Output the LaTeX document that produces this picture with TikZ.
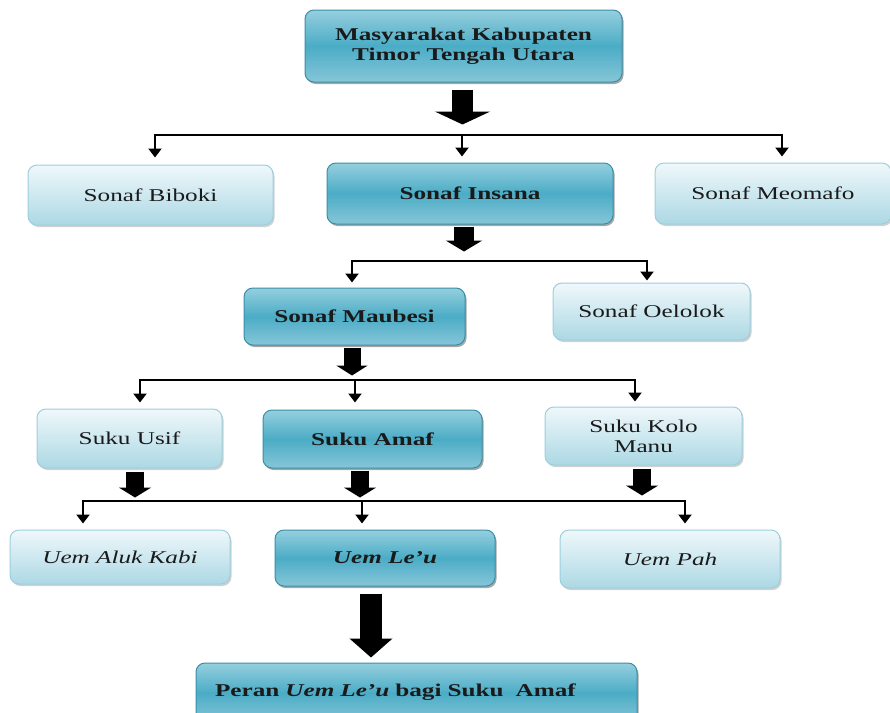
\documentclass[tikz,border=0pt]{standalone}
\usepackage{fontspec}
\setmainfont{Liberation Serif}[FakeStretch=1.4]
\usetikzlibrary{arrows.meta,shadows}
\definecolor{dktop}{HTML}{95CFDE}
\definecolor{dkmid}{HTML}{4BACC6}
\definecolor{dkbot}{HTML}{86C6D8}
\definecolor{dkedge}{HTML}{3A8FA8}
\definecolor{lttop}{HTML}{EFF8FB}
\definecolor{ltbot}{HTML}{ACD8E4}
\definecolor{ltedge}{HTML}{9CCFDD}
\definecolor{txt}{HTML}{1A1A1A}
\newcommand\boxfont{\fontsize{18}{20}\selectfont}
\tikzset{
  darkbox/.style={rounded corners=9pt, draw=dkedge, line width=1pt,
    top color=dktop, bottom color=dkbot, middle color=dkmid,
    drop shadow={shadow xshift=1.5pt, shadow yshift=-2pt, fill=black, opacity=.35},
    font=\boxfont\bfseries, text=txt, inner sep=0pt, align=center},
  lightbox/.style={rounded corners=9pt, draw=ltedge, line width=1pt,
    top color=lttop, bottom color=ltbot,
    drop shadow={shadow xshift=1.5pt, shadow yshift=-2pt, fill=black, opacity=.18},
    font=\boxfont, text=txt, inner sep=0pt, align=center},
  conn/.style={line width=2.5pt, -{Triangle[width=13pt,length=9pt]}},
  bigarr/.style n args={3}{line width=#1, -{Triangle[width=#2,length=#3]}}
}
\begin{document}
\begin{tikzpicture}[x=1pt,y=-1pt]
\useasboundingbox (0,0) rectangle (890,712);

% nodes
\node[darkbox, minimum width=317pt, minimum height=72pt] (top) at (463.5,46)
  {Masyarakat Kabupaten\\Timor Tengah Utara};
\node[lightbox, minimum width=245pt, minimum height=60pt] (biboki) at (150.5,195) {Sonaf Biboki};
\node[darkbox, minimum width=286pt, minimum height=61pt] (insana) at (470,193.5) {Sonaf Insana};
\node[lightbox, minimum width=236pt, minimum height=61pt] (meomafo) at (773,193.5) {Sonaf Meomafo};
\node[darkbox, minimum width=221pt, minimum height=57pt] (maubesi) at (354.5,316.5) {Sonaf Maubesi};
\node[lightbox, minimum width=197pt, minimum height=57pt] (oelolok) at (651.5,311.5) {Sonaf Oelolok};
\node[lightbox, minimum width=185pt, minimum height=59pt] (usif) at (129.5,438.5) {Suku Usif};
\node[darkbox, minimum width=219pt, minimum height=58pt] (amaf) at (372.5,439) {Suku Amaf};
\node[lightbox, minimum width=197pt, minimum height=58pt] (kolo) at (643.5,436) {Suku Kolo\\Manu};
\node[lightbox, minimum width=220pt, minimum height=54pt, font=\boxfont\itshape] (aluk) at (120,557) {Uem Aluk Kabi};
\node[darkbox, minimum width=220pt, minimum height=56pt, font=\boxfont\bfseries\itshape] (leu) at (385,558) {Uem Le’u};
\node[lightbox, minimum width=220pt, minimum height=58pt, font=\boxfont\itshape] (pah) at (670,559) {Uem Pah};
\node[darkbox, text width=403pt, inner xsep=19pt, minimum height=60pt, align=left] (peran) at (416.5,693)
  {\raisebox{6pt}{Peran \textit{Uem Le’u} bagi Suku\ \ Amaf}};

% junction points on the horizontal bars
\coordinate (j1) at (462,135);
\coordinate (j2) at (465,261);
\coordinate (j3) at (355,380);
\coordinate (j4) at (362,501);

% block arrows
\draw[bigarr={21pt}{55pt}{13pt}] ([xshift=-1pt,yshift=-7pt]top.south) -- ++(0,35);
\draw[bigarr={20pt}{36pt}{11pt}] ([xshift=-6pt,yshift=-2pt]insana.south) -- ++(0,25);
\draw[bigarr={17pt}{31pt}{10pt}] ([xshift=-2.5pt,yshift=-2pt]maubesi.south) -- ++(0,28);
\draw[bigarr={18pt}{32pt}{10pt}] ([xshift=5.5pt,yshift=-3pt]usif.south) -- ++(0,26);
\draw[bigarr={18pt}{32pt}{10pt}] ([xshift=-12.5pt,yshift=-2pt]amaf.south) -- ++(0,27);
\draw[bigarr={18pt}{32pt}{10pt}] ([xshift=-1.5pt,yshift=-3pt]kolo.south) -- ++(0,27);
\draw[bigarr={22pt}{42pt}{19pt}] ([xshift=-14pt,yshift=-7pt]leu.south) -- ++(0,64);

% thin branch connectors
\draw[conn] (j1) -| ([xshift=4.5pt,yshift=7pt]biboki.north);
\draw[conn] (j1) -- ([xshift=-8pt,yshift=6pt]insana.north);
\draw[conn] (j1) -| ([xshift=9pt,yshift=6pt]meomafo.north);

\draw[conn] (j2) -| ([xshift=-2.5pt,yshift=5pt]maubesi.north);
\draw[conn] (j2) -| ([xshift=-4.5pt,yshift=2pt]oelolok.north);

\draw[conn] (j3) -| ([xshift=10.5pt,yshift=6pt]usif.north);
\draw[conn] (j3) -- ([xshift=-17.5pt,yshift=7pt]amaf.north);
\draw[conn] (j3) -| ([xshift=-8.5pt,yshift=5pt]kolo.north);

\draw[conn] (j4) -| ([xshift=-37pt,yshift=6pt]aluk.north);
\draw[conn] (j4) -- ([xshift=-23pt,yshift=6pt]leu.north);
\draw[conn] (j4) -| ([xshift=15pt,yshift=6pt]pah.north);
\end{tikzpicture}
\end{document}
